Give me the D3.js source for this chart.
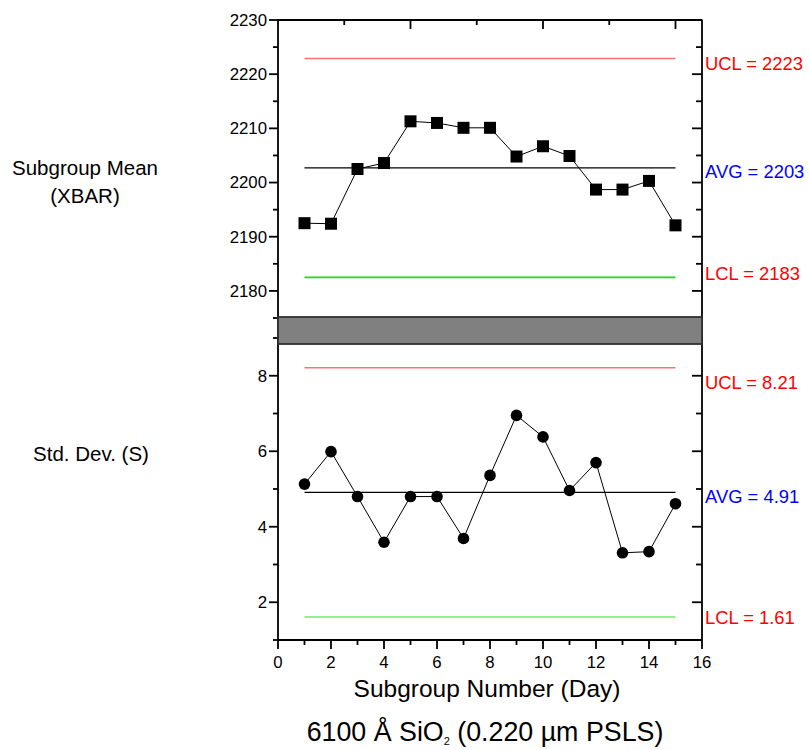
<!DOCTYPE html>
<html>
<head>
<meta charset="utf-8">
<script src="https://cdn.jsdelivr.net/npm/d3@7"></script>
<style>
  body { margin: 0; background: #fff; }
  svg { display: block; font-family: "Liberation Sans", Arial, sans-serif; }
</style>
</head>
<body>
<svg id="chart" width="809" height="750"></svg>
<script>
// Subgroups (days)
const days = [1, 2, 3, 4, 5, 6, 7, 8, 9, 10, 11, 12, 13, 14, 15];

// Subgroup means (XBAR)
const xbarValues = [2192.5, 2192.4, 2202.5, 2203.6, 2211.3, 2211.0, 2210.1, 2210.1,
                    2204.8, 2206.7, 2204.9, 2198.7, 2198.7, 2200.3, 2192.1];

// Subgroup standard deviations (S)
const sValues = [5.13, 5.99, 4.80, 3.59, 4.80, 4.80, 3.69, 5.36,
                 6.95, 6.38, 4.96, 5.70, 3.31, 3.34, 4.61];

// Control limits: [UCL, AVG, LCL]
const xbarLimitNames = ["UCL", "AVG", "LCL"];
const xbarLimits = [2222.9, 2202.7, 2182.5];
const sLimitNames = ["UCL", "AVG", "LCL"];
const sLimits = [8.21, 4.91, 1.61];

// Axis ticks
const xTicks = [0, 2, 4, 6, 8, 10, 12, 14, 16];
const xbarTicks = [2180, 2190, 2200, 2210, 2220, 2230];
const sTicks = [2, 4, 6, 8];

const svg = d3.select("#chart");

const left = 278, right = 702;
const x = d3.scaleLinear().domain([0, 16]).range([left, right]);
const yTop = d3.scaleLinear().domain([2175, 2230]).range([318, 20]);
const yBot = d3.scaleLinear().domain([1, 9]).range([640, 338]);

const limitStrokeTop = { UCL: "#ff7070", AVG: "#000000", LCL: "#10e010" };
const limitStrokeBot = { UCL: "#ff7070", AVG: "#000000", LCL: "#66ee66" };
const limitText = { UCL: "#ff0000", AVG: "#0000ff", LCL: "#ff0000" };

// ---------- axes ----------
const axes = svg.append("g").attr("stroke", "#000").attr("stroke-width", 1.8);

// frame
axes.append("line").attr("x1", left).attr("x2", left).attr("y1", 19.5).attr("y2", 640);
axes.append("line").attr("x1", right).attr("x2", right).attr("y1", 19.5).attr("y2", 640);
axes.append("line").attr("x1", left).attr("x2", right).attr("y1", 20).attr("y2", 20);
axes.append("line").attr("x1", left).attr("x2", right).attr("y1", 640).attr("y2", 640);

// left / right ticks, top panel (major every 10, minor every 5)
d3.range(2175, 2231, 5).forEach(v => {
  const major = v % 10 === 0;
  const y = yTop(v);
  axes.append("line").attr("x1", left - (major ? 9 : 5)).attr("x2", left).attr("y1", y).attr("y2", y);
  if (v < 2230) axes.append("line").attr("x1", right - (major ? 10 : 6)).attr("x2", right).attr("y1", y).attr("y2", y);
});
// left / right ticks, bottom panel (major even, minor odd)
d3.range(1, 10).forEach(v => {
  const major = v % 2 === 0;
  const y = yBot(v);
  axes.append("line").attr("x1", left - (major ? 9 : 5)).attr("x2", left).attr("y1", y).attr("y2", y);
  if (v > 1 && v < 9) axes.append("line").attr("x1", right - (major ? 10 : 6)).attr("x2", right).attr("y1", y).attr("y2", y);
});
// bottom x ticks
d3.range(0, 17).forEach(v => {
  const major = v % 2 === 0;
  axes.append("line").attr("x1", x(v)).attr("x2", x(v)).attr("y1", 640).attr("y2", 640 + (major ? 9 : 5));
});
// top edge ticks (every 2.5)
[2.5, 5, 7.5, 10, 12.5, 15].forEach(v => {
  const major = v % 5 === 0;
  axes.append("line").attr("x1", x(v)).attr("x2", x(v)).attr("y1", 20).attr("y2", 20 + (major ? 9 : 5));
});

// tick labels
const tickFont = 16.8;
svg.append("g").selectAll("text").data(xbarTicks).join("text")
  .attr("x", left - 11).attr("y", d => yTop(d)).attr("dy", "0.35em")
  .attr("text-anchor", "end").attr("font-size", tickFont).text(d => d);
svg.append("g").selectAll("text").data(sTicks).join("text")
  .attr("x", left - 11).attr("y", d => yBot(d)).attr("dy", "0.35em")
  .attr("text-anchor", "end").attr("font-size", tickFont).text(d => d);
svg.append("g").selectAll("text").data(xTicks).join("text")
  .attr("x", d => x(d)).attr("y", 668)
  .attr("text-anchor", "middle").attr("font-size", tickFont).text(d => d);

// ---------- separator band ----------
svg.append("rect").attr("x", left).attr("y", 317).attr("width", right - left).attr("height", 27)
  .attr("fill", "#808080").attr("stroke", "#303030").attr("stroke-width", 1.8);

// ---------- control limit lines ----------
function drawLimits(names, vals, yScale, fmt, offsets, strokes) {
  const g = svg.append("g");
  names.forEach((n, i) => {
    g.append("line")
      .attr("x1", x(days[0])).attr("x2", x(days[days.length - 1]))
      .attr("y1", yScale(vals[i])).attr("y2", yScale(vals[i]))
      .attr("stroke", strokes[n]).attr("stroke-width", n === "AVG" ? 1.2 : 1.6);
    g.append("text")
      .attr("x", right + 3).attr("y", yScale(vals[i]) + offsets[i]).attr("dy", "0.35em")
      .attr("font-size", 18.4).attr("fill", limitText[n])
      .text(`${n} = ${fmt(vals[i])}`);
  });
}
drawLimits(xbarLimitNames, xbarLimits, yTop, d3.format(".0f"), [5, 4, -4], limitStrokeTop);
drawLimits(sLimitNames, sLimits, yBot, d3.format(".2f"), [15, 4, 1], limitStrokeBot);

// ---------- data series ----------
const lineTop = d3.line().x((d, i) => x(days[i])).y(d => yTop(d));
svg.append("path").datum(xbarValues).attr("d", lineTop)
  .attr("fill", "none").attr("stroke", "#000").attr("stroke-width", 1);
svg.append("g").selectAll("rect").data(xbarValues).join("rect")
  .attr("x", (d, i) => x(days[i]) - 6).attr("y", d => yTop(d) - 6)
  .attr("width", 12).attr("height", 12).attr("fill", "#000");

const lineBot = d3.line().x((d, i) => x(days[i])).y(d => yBot(d));
svg.append("path").datum(sValues).attr("d", lineBot)
  .attr("fill", "none").attr("stroke", "#000").attr("stroke-width", 1);
svg.append("g").selectAll("circle").data(sValues).join("circle")
  .attr("cx", (d, i) => x(days[i])).attr("cy", d => yBot(d)).attr("r", 5.8)
  .attr("fill", "#000");

// ---------- titles ----------
svg.append("text").attr("x", 85).attr("y", 175).attr("text-anchor", "middle")
  .attr("font-size", 20.5).text("Subgroup Mean");
svg.append("text").attr("x", 85).attr("y", 203).attr("text-anchor", "middle")
  .attr("font-size", 20.5).text("(XBAR)");
svg.append("text").attr("x", 91).attr("y", 461).attr("text-anchor", "middle")
  .attr("font-size", 20.5).text("Std. Dev. (S)");

svg.append("text").attr("x", 487).attr("y", 697).attr("text-anchor", "middle")
  .attr("font-size", 24.5).text("Subgroup Number (Day)");

const title = svg.append("text").attr("x", 485).attr("y", 741).attr("text-anchor", "middle")
  .attr("font-size", 26.8);
title.append("tspan").text("6100 Å SiO");
title.append("tspan").attr("font-size", 11).attr("dy", 4).text("2");
title.append("tspan").attr("dy", -4).text(" (0.220 µm PSLS)");
</script>
</body>
</html>
